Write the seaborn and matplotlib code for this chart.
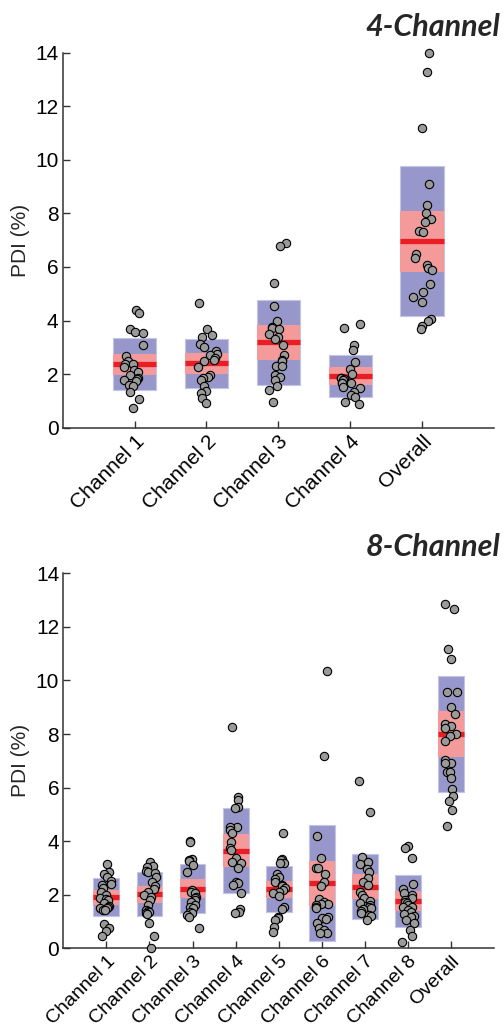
import numpy as np
import pandas as pd
import matplotlib
matplotlib.use("Agg")
import matplotlib.pyplot as plt
import seaborn as sns

# ---------------- data ----------------
cats4 = ["Channel 1", "Channel 2", "Channel 3", "Channel 4", "Overall"]
ch1_4 = [4.39, 4.27, 3.67, 3.56, 3.52, 3.07, 2.67, 2.49, 2.36, 2.36, 2.28, 2.15, 2.06, 1.95, 1.84, 1.82, 1.78, 1.74, 1.59, 1.55, 1.32, 1.06, 0.72]
ch2_4 = [4.66, 3.67, 3.45, 3.40, 3.12, 3.00, 2.87, 2.75, 2.71, 2.59, 2.52, 2.50, 2.28, 1.97, 1.90, 1.84, 1.78, 1.55, 1.38, 1.31, 1.12, 0.91]
ch3_4 = [6.90, 6.79, 5.39, 4.55, 3.98, 3.74, 3.71, 3.67, 3.49, 3.40, 3.31, 3.07, 2.70, 2.52, 2.49, 2.31, 2.30, 1.97, 1.88, 1.78, 1.55, 1.41, 0.95]
ch4_4 = [3.86, 3.71, 3.07, 2.91, 2.44, 2.19, 2.00, 1.84, 1.84, 1.83, 1.78, 1.65, 1.65, 1.65, 1.53, 1.47, 1.32, 1.22, 1.16, 0.95, 0.87]
all_4 = [13.97, 13.28, 11.17, 9.09, 8.31, 8.00, 7.79, 7.66, 7.35, 7.31, 6.48, 6.32, 6.07, 5.97, 5.88, 5.35, 5.07, 4.89, 4.70, 4.04, 3.99, 3.79, 3.67]
mean_4 = [2.36, 2.40, 3.18, 1.92, 6.95]
sd_4 = [0.97, 0.91, 1.58, 0.79, 2.80]
ci_4 = [0.39, 0.38, 0.64, 0.33, 1.13]

cats8 = ["Channel 1", "Channel 2", "Channel 3", "Channel 4", "Channel 5",
         "Channel 6", "Channel 7", "Channel 8", "Overall"]
ch1_8 = [3.13, 2.86, 2.77, 2.65, 2.53, 2.40, 2.36, 2.24, 2.12, 1.99, 1.87, 1.84, 1.80, 1.68, 1.58, 1.56, 1.49, 1.49, 1.43, 1.43, 0.90, 0.75, 0.66, 0.46]
ch2_8 = [3.21, 3.07, 3.05, 2.90, 2.86, 2.80, 2.65, 2.49, 2.33, 2.20, 2.12, 1.99, 1.93, 1.80, 1.62, 1.43, 1.41, 1.37, 1.33, 1.28, 0.93, 0.46, 0.0]
ch3_8 = [4.01, 3.96, 3.33, 3.30, 3.27, 3.11, 2.86, 2.18, 2.12, 2.08, 1.93, 1.87, 1.80, 1.74, 1.62, 1.56, 1.49, 1.37, 1.31, 1.24, 1.18, 0.75]
ch4_8 = [8.28, 5.66, 5.54, 5.29, 5.23, 4.54, 4.52, 4.42, 4.29, 3.98, 3.76, 3.67, 3.36, 3.24, 3.17, 2.99, 2.49, 2.43, 2.36, 2.05, 1.46, 1.37, 1.33]
ch5_8 = [4.29, 3.32, 3.30, 3.20, 3.17, 2.76, 2.65, 2.58, 2.49, 2.36, 2.33, 2.24, 2.18, 2.12, 2.05, 1.95, 1.53, 1.46, 1.18, 1.12, 1.06, 0.81, 0.62]
ch6_8 = [10.35, 7.19, 4.19, 3.36, 2.99, 2.99, 2.78, 2.46, 2.33, 1.83, 1.74, 1.65, 1.64, 1.62, 1.56, 1.49, 1.18, 1.12, 1.08, 0.93, 0.75, 0.68, 0.58, 0.56]
ch7_8 = [6.26, 5.08, 3.40, 3.21, 3.15, 2.96, 2.86, 2.61, 2.49, 2.36, 2.12, 1.99, 1.87, 1.75, 1.68, 1.62, 1.56, 1.50, 1.46, 1.41, 1.31, 1.24, 1.22, 1.06]
ch8_8 = [3.82, 3.76, 3.38, 2.40, 2.20, 2.05, 1.99, 1.87, 1.80, 1.74, 1.68, 1.60, 1.56, 1.53, 1.43, 1.37, 1.28, 1.20, 1.18, 1.06, 0.93, 0.68, 0.46, 0.25]
all_8 = [12.85, 12.66, 11.16, 10.79, 9.58, 9.58, 9.00, 8.75, 8.37, 8.31, 8.21, 8.00, 7.93, 7.74, 7.03, 6.93, 6.91, 6.57, 6.57, 6.35, 5.96, 5.70, 5.49, 5.16, 4.57]
mean_8 = [1.90, 2.02, 2.22, 3.65, 2.20, 2.42, 2.30, 1.76, 8.00]
sd_8 = [0.71, 0.82, 0.915, 1.60, 0.855, 2.165, 1.215, 0.98, 2.18]
ci_8 = [0.28, 0.32, 0.36, 0.62, 0.33, 0.855, 0.47, 0.385, 0.845]

yticks = [0, 2, 4, 6, 8, 10, 12, 14]

# ---------------- style ----------------
sns.set_style("ticks")
plt.rcParams["font.family"] = ["Liberation Sans", "DejaVu Sans"]

BLUE = "#9797CB"
PINK = "#F59A9B"
RED = "#E81E24"
GREY = "#9A9A9A"
AXC = "#333333"
FS = 15

fig = plt.figure(figsize=(5.04, 10.34), dpi=100)
ax1 = fig.add_axes([0.1244, 0.5864, 0.8556, 0.3627])
ax2 = fig.add_axes([0.1256, 0.0829, 0.8546, 0.3626])


def panel(ax, cats, groups, means, sds, cis, title, title_y, xfs):
    df = pd.DataFrame({
        "cat": np.concatenate([[c] * len(g) for c, g in zip(cats, groups)]),
        "val": np.concatenate(groups),
    })
    pos = np.arange(len(cats))
    means = np.asarray(means)
    sds = np.asarray(sds)
    cis = np.asarray(cis)
    w = 0.6
    ax.bar(pos, 2 * sds, bottom=means - sds, width=w, color=BLUE,
           edgecolor="#C4C4E4", linewidth=0.8, zorder=1)
    ax.bar(pos, 2 * cis, bottom=means - cis, width=w, color=PINK,
           linewidth=0, zorder=2)
    ax.hlines(means, pos - w / 2, pos + w / 2, color=RED, linewidth=3.8, zorder=3)
    np.random.seed(3)
    sns.stripplot(data=df, x="cat", y="val", order=cats, ax=ax, jitter=0.15,
                  color=GREY, edgecolor="black", linewidth=0.8, size=6,
                  zorder=4, clip_on=False)
    ax.set_xlim(-1, len(cats))
    ax.set_ylim(0, 14)
    ax.set_yticks(yticks)
    ax.set_yticklabels([str(t) for t in yticks])
    ax.set_xticks(pos)
    ax.set_xticklabels(cats, rotation=45, ha="right", rotation_mode="anchor",
                       fontsize=xfs)
    ax.set_xlabel("")
    ax.set_ylabel("PDI (%)", fontsize=FS, labelpad=4)
    ax.tick_params(direction="in", length=5, width=1, colors=AXC,
                   labelcolor="black")
    ax.tick_params(axis="y", pad=3, labelsize=FS)
    ax.tick_params(axis="x", pad=3)
    for s in ["top", "right"]:
        ax.spines[s].set_visible(False)
    for s in ["left", "bottom"]:
        ax.spines[s].set_color(AXC)
        ax.spines[s].set_linewidth(1.1)
    ax.set_facecolor("white")
    fig.text(0.992, title_y, title, ha="right", va="baseline", fontsize=22,
             fontweight="bold", fontstyle="italic", family=["Lato", "DejaVu Sans"])


panel(ax1, cats4, [ch1_4, ch2_4, ch3_4, ch4_4, all_4], mean_4, sd_4, ci_4,
      "4-Channel", 1 - 36 / 1034, FS)
panel(ax2, cats8, [ch1_8, ch2_8, ch3_8, ch4_8, ch5_8, ch6_8, ch7_8, ch8_8, all_8],
      mean_8, sd_8, ci_8, "8-Channel", 1 - 556 / 1034, 14)

fig.savefig("out.png", dpi=100, facecolor="white")
